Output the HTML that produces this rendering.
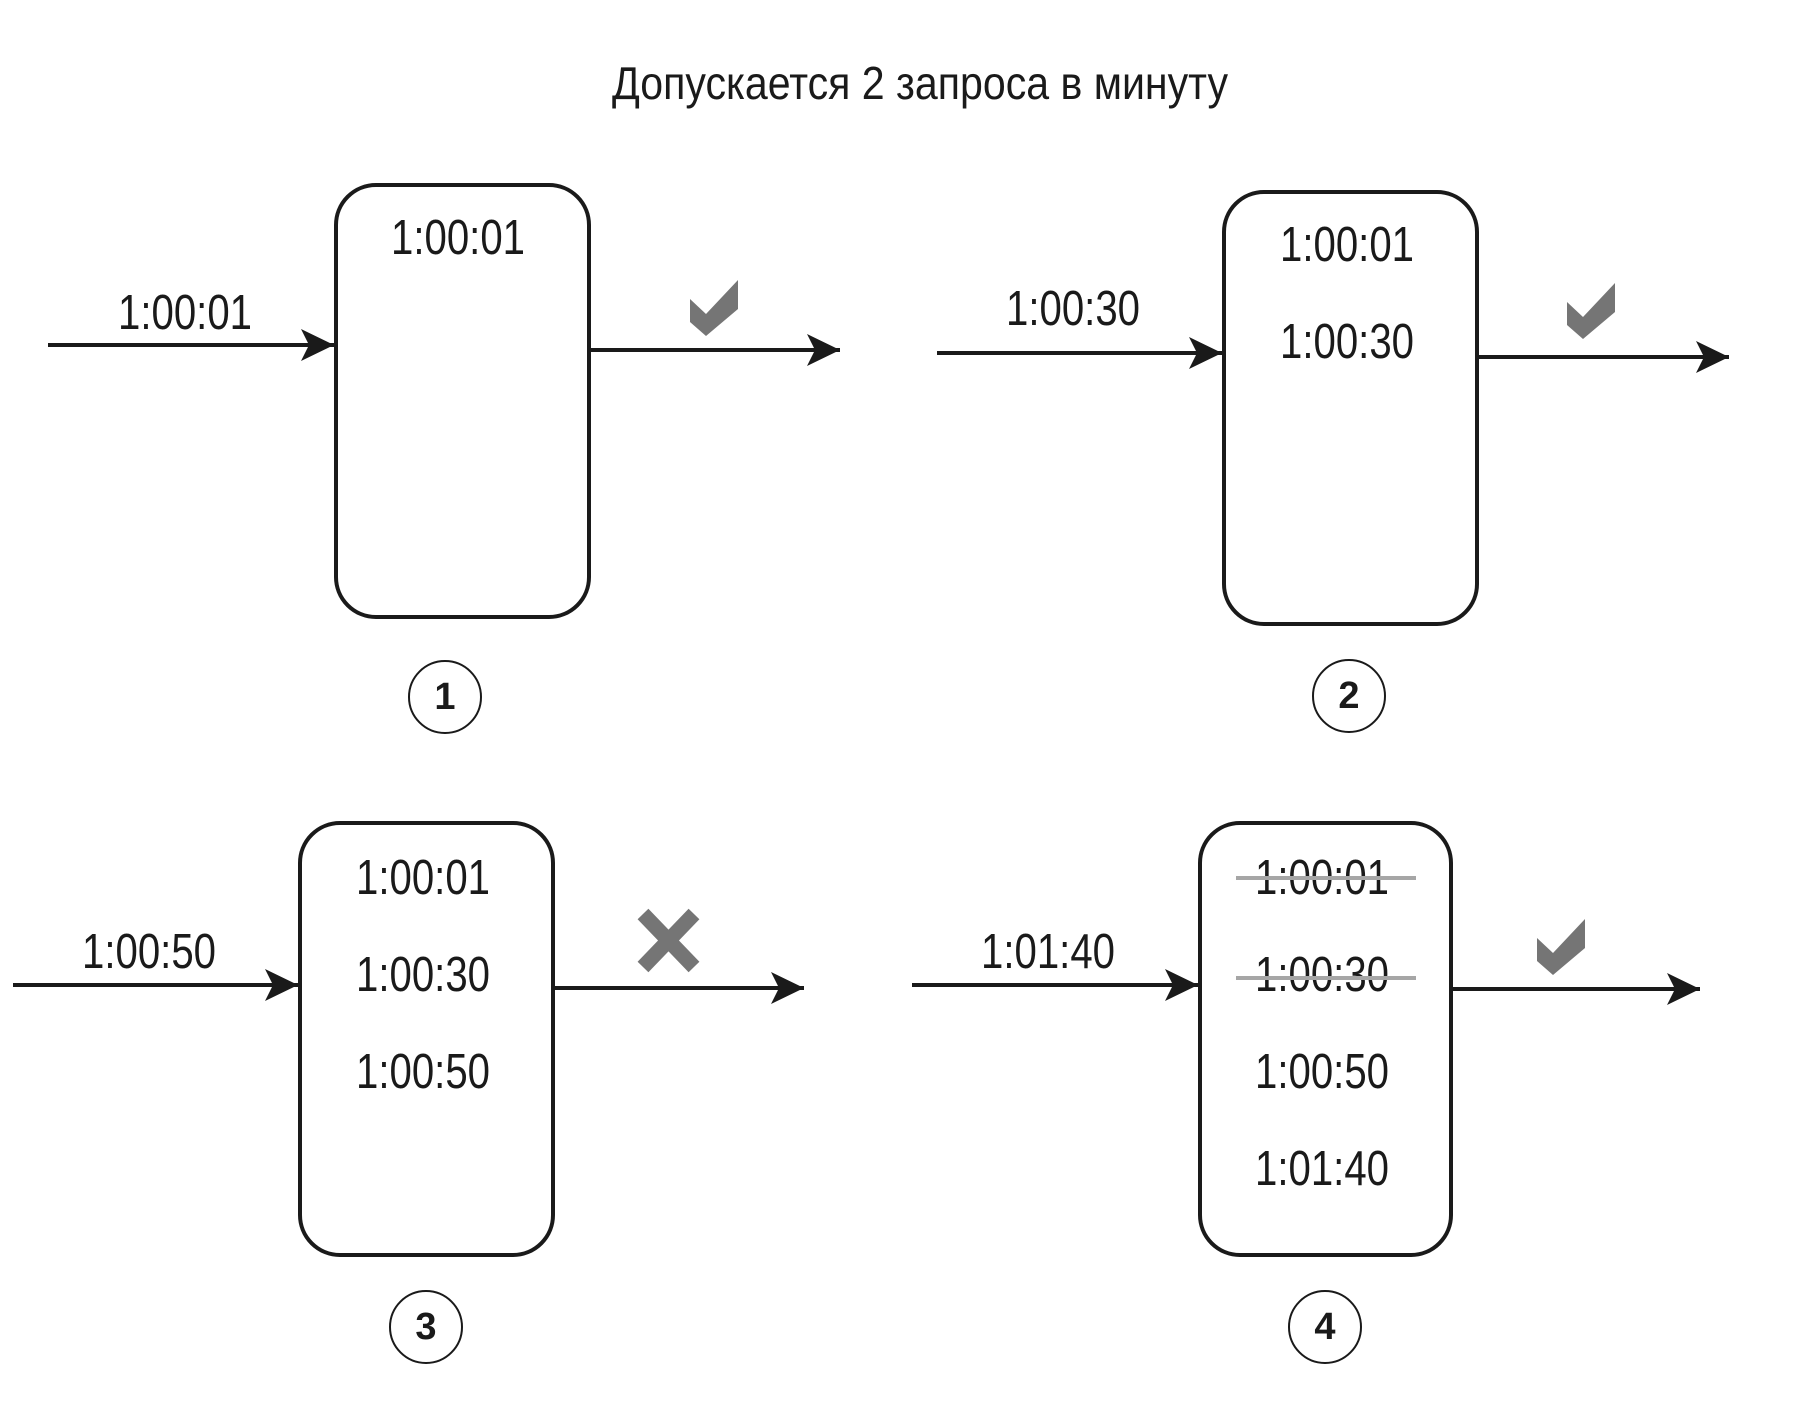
<!DOCTYPE html>
<html><head><meta charset="utf-8"><style>
html,body{margin:0;padding:0;background:#fff;}
svg{display:block;}
text{font-family:"Liberation Sans Narrow","Liberation Sans",sans-serif;fill:#1a1a1a;}
</style></head><body>
<svg width="1808" height="1412" viewBox="0 0 1808 1412" xmlns="http://www.w3.org/2000/svg">
<defs>
<marker id="ah" markerUnits="userSpaceOnUse" markerWidth="40" markerHeight="40" refX="33" refY="16" orient="auto">
<path d="M0,0 L33,16 L0,32 L8,16 Z" fill="#1a1a1a"/>
</marker>
<g id="chk"><path d="M0,19 L16,34 L48,0 L48,29 L16,56 L0,42 Z" fill="#757575"/></g>
</defs>
<text x="920" y="99" font-size="46" text-anchor="middle" textLength="616" lengthAdjust="spacingAndGlyphs">Допускается 2 запроса в минуту</text>

<g stroke="#1a1a1a" stroke-width="4" fill="none">
<line x1="48" y1="345" x2="334" y2="345" marker-end="url(#ah)"/>
<rect x="336" y="185" width="253" height="432" rx="40"/>
<line x1="589" y1="350" x2="840" y2="350" marker-end="url(#ah)"/>
<line x1="937" y1="353" x2="1222" y2="353" marker-end="url(#ah)"/>
<rect x="1224" y="192" width="253" height="432" rx="40"/>
<line x1="1477" y1="357" x2="1729" y2="357" marker-end="url(#ah)"/>
<line x1="13" y1="985" x2="298" y2="985" marker-end="url(#ah)"/>
<rect x="300" y="823" width="253" height="432" rx="40"/>
<line x1="553" y1="988" x2="804" y2="988" marker-end="url(#ah)"/>
<line x1="912" y1="985" x2="1198" y2="985" marker-end="url(#ah)"/>
<rect x="1200" y="823" width="251" height="432" rx="40"/>
<line x1="1451" y1="989" x2="1700" y2="989" marker-end="url(#ah)"/>
</g>
<g stroke="#1a1a1a" stroke-width="2" fill="none">
<circle cx="445" cy="697" r="36"/>
<circle cx="1349" cy="696" r="36"/>
<circle cx="426" cy="1327" r="36"/>
<circle cx="1325" cy="1327" r="36"/>
</g>
<g font-size="38" font-weight="bold" text-anchor="middle" font-family="Liberation Sans">
<text x="445" y="709">1</text>
<text x="1349" y="708">2</text>
<text x="426" y="1339">3</text>
<text x="1325" y="1339">4</text>
</g>

<g font-size="49" text-anchor="middle">
<text x="185" y="329" textLength="134" lengthAdjust="spacingAndGlyphs">1:00:01</text>
<text x="458" y="254" textLength="134" lengthAdjust="spacingAndGlyphs">1:00:01</text>
<text x="1073" y="325" textLength="134" lengthAdjust="spacingAndGlyphs">1:00:30</text>
<text x="1347" y="261" textLength="134" lengthAdjust="spacingAndGlyphs">1:00:01</text>
<text x="1347" y="358" textLength="134" lengthAdjust="spacingAndGlyphs">1:00:30</text>
<text x="149" y="968" textLength="134" lengthAdjust="spacingAndGlyphs">1:00:50</text>
<text x="423" y="894" textLength="134" lengthAdjust="spacingAndGlyphs">1:00:01</text>
<text x="423" y="991" textLength="134" lengthAdjust="spacingAndGlyphs">1:00:30</text>
<text x="423" y="1088" textLength="134" lengthAdjust="spacingAndGlyphs">1:00:50</text>
<text x="1048" y="968" textLength="134" lengthAdjust="spacingAndGlyphs">1:01:40</text>
<text x="1322" y="894" textLength="134" lengthAdjust="spacingAndGlyphs">1:00:01</text>
<text x="1322" y="991" textLength="134" lengthAdjust="spacingAndGlyphs">1:00:30</text>
<text x="1322" y="1088" textLength="134" lengthAdjust="spacingAndGlyphs">1:00:50</text>
<text x="1322" y="1185" textLength="134" lengthAdjust="spacingAndGlyphs">1:01:40</text>
</g>
<g stroke="#a6a6a6" stroke-width="4">
<line x1="1236" y1="878" x2="1416" y2="878"/>
<line x1="1236" y1="978" x2="1416" y2="978"/>
</g>

<use href="#chk" x="690" y="280"/>
<use href="#chk" x="1567" y="283"/>
<use href="#chk" x="1537" y="919"/>
<g stroke="#757575" stroke-width="15">
<line x1="643" y1="914" x2="694" y2="967"/>
<line x1="694" y1="914" x2="643" y2="967"/>
</g>
</svg>
</body></html>
